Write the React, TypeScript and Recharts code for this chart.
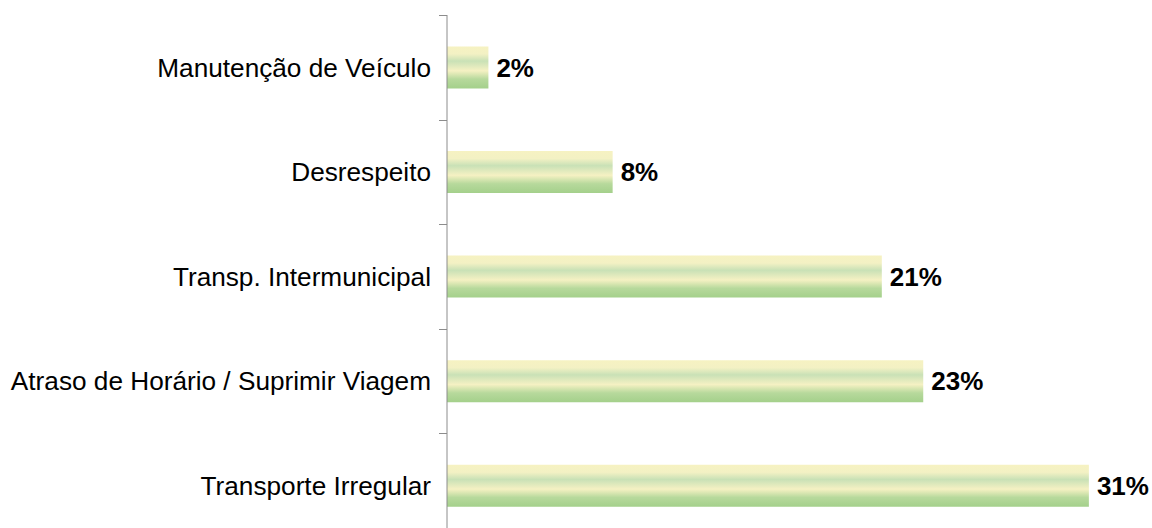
import { Bar, BarChart, LabelList, XAxis, YAxis } from "recharts";

const categories = [
  "Manutenção de Veículo",
  "Desrespeito",
  "Transp. Intermunicipal",
  "Atraso de Horário / Suprimir Viagem",
  "Transporte Irregular",
];
const shares = [2, 8, 21, 23, 31];

const data = categories.map((name, i) => ({ name, value: shares[i] }));

const font = "'Liberation Sans', Arial, sans-serif";
const axisGrey = "#8c8c8c";
const plotTop = 15;
const band = 104.6;

export default function App() {
  return (
    <div style={{ position: "absolute", left: 0, top: 0, width: 1152, height: 528, overflow: "hidden", background: "#fff" }}>
      <BarChart
        width={1152}
        height={538}
        data={data}
        layout="vertical"
        margin={{ top: plotTop, right: 1, bottom: 0, left: 0 }}
        barCategoryGap="30%"
      >
        <defs>
          <linearGradient id="barFill" x1="0" y1="0" x2="0" y2="1">
            <stop offset="0%" stopColor="#F6F2C2" />
            <stop offset="18%" stopColor="#F3F1C4" />
            <stop offset="35%" stopColor="#C9E1B6" />
            <stop offset="58%" stopColor="#F5F1C3" />
            <stop offset="78%" stopColor="#B7D99C" />
            <stop offset="100%" stopColor="#A4D08B" />
          </linearGradient>
        </defs>
        <XAxis type="number" domain={[0, 34]} hide />
        <YAxis
          type="category"
          dataKey="name"
          width={447}
          axisLine={{ stroke: axisGrey, strokeWidth: 1 }}
          tickLine={false}
          tick={{ fill: "#000", fontSize: 26.2, fontFamily: font }}
          tickMargin={10}
        />
        <Bar dataKey="value" fill="url(#barFill)" isAnimationActive={false}>
          <LabelList
            dataKey="value"
            position="right"
            offset={8}
            formatter={(v: number) => `${v}%`}
            style={{ fill: "#000", fontSize: 26, fontWeight: 700, fontFamily: font }}
          />
        </Bar>
      </BarChart>
      {/* category boundary ticks on the left of the axis */}
      <svg style={{ position: "absolute", left: 0, top: 0 }} width={1152} height={528}>
        {[0, 1, 2, 3, 4].map((i) => {
          const y = Math.round(plotTop + i * band) + 0.5;
          return <line key={i} x1={439} x2={447} y1={y} y2={y} stroke={axisGrey} />;
        })}
      </svg>
    </div>
  );
}
